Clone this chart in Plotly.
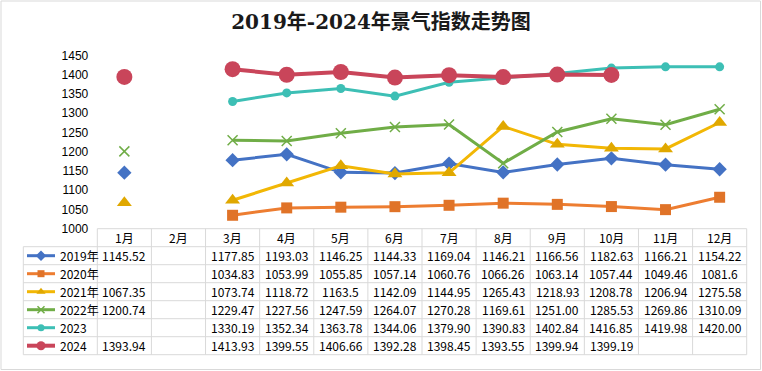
import plotly.graph_objects as go

W, H = 762, 371

months = ["1月", "2月", "3月", "4月", "5月", "6月", "7月", "8月", "9月", "10月", "11月", "12月"]
series_names = ["2019年", "2020年", "2021年", "2022年", "2023", "2024"]
s2019 = [1145.52, None, 1177.85, 1193.03, 1146.25, 1144.33, 1169.04, 1146.21, 1166.56, 1182.63, 1166.21, 1154.22]
s2020 = [None, None, 1034.83, 1053.99, 1055.85, 1057.14, 1060.76, 1066.26, 1063.14, 1057.44, 1049.46, 1081.6]
s2021 = [1067.35, None, 1073.74, 1118.72, 1163.5, 1142.09, 1144.95, 1265.43, 1218.93, 1208.78, 1206.94, 1275.58]
s2022 = [1200.74, None, 1229.47, 1227.56, 1247.59, 1264.07, 1270.28, 1169.61, 1251.00, 1285.53, 1269.86, 1310.09]
s2023 = [None, None, 1330.19, 1352.34, 1363.78, 1344.06, 1379.90, 1390.83, 1402.84, 1416.85, 1419.98, 1420.00]
s2024 = [1393.94, None, 1413.93, 1399.55, 1406.66, 1392.28, 1398.45, 1393.55, 1399.94, 1399.19, None, None]
all_series = [s2019, s2020, s2021, s2022, s2023, s2024]
fixed2 = [False, False, False, True, True, True]
y_ticks = [1000, 1050, 1100, 1150, 1200, 1250, 1300, 1350, 1400, 1450]

colors = ["#4472C4", "#ED7D31", "#F2B705", "#70AD47", "#3DBFB5", "#C9455A"]
marker_colors = ["#4472C4", "#E07328", "#E0A800", "#70AD47", "#3DBFB5", "#C9455A"]
symbols = ["diamond", "square", "triangle-up", "x-thin", "circle", "circle"]
msizes = [11, 11, 13, 10, 9, 16]
leg_sizes = [8, 7, 8, 7, 7, 9]
lwidths = [3, 3, 3, 3, 3, 4]

# layout geometry (pixels)
px_left, px_right = 97.3, 746.7
px_top, px_bottom = 55.3, 228.7
leg_left = 23.3
row_h = 18.0
header_top = px_bottom
def py(y):
    return 1 - y / H

fig = go.Figure()
for i, (name, vals) in enumerate(zip(series_names, all_series)):
    mk = dict(symbol=symbols[i], size=msizes[i], color=marker_colors[i])
    if symbols[i] == "x-thin":
        mk["line"] = dict(color=marker_colors[i], width=1.5)
    fig.add_trace(go.Scatter(
        x=months, y=vals, name=name, mode="lines+markers",
        line=dict(color=colors[i], width=lwidths[i]),
        marker=mk, connectgaps=False, showlegend=False, cliponaxis=False,
    ))

# legend keys in table (pixel axes)
for i, name in enumerate(series_names):
    yc = header_top + row_h * (i + 1.5)
    mk = dict(symbol=symbols[i], size=leg_sizes[i], color=marker_colors[i])
    if symbols[i] == "x-thin":
        mk["line"] = dict(color=marker_colors[i], width=1.5)
    fig.add_trace(go.Scatter(x=[27, 55], y=[yc, yc], mode="lines",
                             line=dict(color=colors[i], width=lwidths[i]),
                             xaxis="x2", yaxis="y2", showlegend=False, hoverinfo="skip"))
    fig.add_trace(go.Scatter(x=[41], y=[yc], mode="markers", marker=mk,
                             xaxis="x2", yaxis="y2", showlegend=False, hoverinfo="skip"))

grid = "#D9D9D9"
shapes = []
shapes.append(dict(type="line", xref="paper", yref="paper", x0=px_left / W, x1=px_right / W,
                   y0=py(header_top), y1=py(header_top), line=dict(color=grid, width=1)))
for k in range(1, 8):
    yy = header_top + row_h * k
    shapes.append(dict(type="line", xref="paper", yref="paper", x0=leg_left / W, x1=px_right / W,
                       y0=py(yy), y1=py(yy), line=dict(color=grid, width=1)))
col_w = (px_right - px_left) / 12
for k in range(13):
    xx = px_left + col_w * k
    shapes.append(dict(type="line", xref="paper", yref="paper", x0=xx / W, x1=xx / W,
                       y0=py(header_top), y1=py(header_top + row_h * 7), line=dict(color=grid, width=1)))
shapes.append(dict(type="line", xref="paper", yref="paper", x0=leg_left / W, x1=leg_left / W,
                   y0=py(header_top + row_h), y1=py(header_top + row_h * 7), line=dict(color=grid, width=1)))
shapes.append(dict(type="rect", xref="paper", yref="paper", x0=1 / W, x1=1 - 1.5 / W, y0=1.5 / H, y1=1 - 1 / H,
                   line=dict(color=grid, width=1), layer="below"))

tfont = dict(family="Noto Sans CJK SC", size=12, color="#000000")
ann = []
for m in months:
    ann.append(dict(x=m, y=py(header_top + row_h * 0.5), xref="x", yref="paper", text=m,
                    showarrow=False, font=tfont, xanchor="center", yanchor="middle"))
for i, (name, vals) in enumerate(zip(series_names, all_series)):
    yc = py(header_top + row_h * (i + 1.5))
    ann.append(dict(x=58 / W, y=yc, xref="paper", yref="paper", text=name, showarrow=False,
                    font=tfont, xanchor="left", yanchor="middle"))
    for m, v in zip(months, vals):
        if v is None:
            continue
        txt = f"{v:.2f}" if fixed2[i] else f"{v:g}"
        ann.append(dict(x=m, y=yc, xref="x", yref="paper", text=txt, showarrow=False,
                        font=tfont, xanchor="center", yanchor="middle"))

fig.update_layout(
    width=W, height=H, margin=dict(l=0, r=0, t=0, b=0, autoexpand=False),
    paper_bgcolor="white", plot_bgcolor="rgba(0,0,0,0)",
    title=dict(text="<b>2019年-2024年景气指数走势图</b>", x=0.5, xanchor="center",
               y=1 - 22 / H, yanchor="middle",
               font=dict(family="DejaVu Serif, Noto Sans CJK SC", size=20, color="#1a1a1a")),
    xaxis=dict(domain=[px_left / W, px_right / W], type="category", categoryorder="array",
               categoryarray=months, range=[-0.5, 11.5], showticklabels=False, automargin=False,
               showgrid=False, zeroline=False, showline=False, ticks=""),
    yaxis=dict(domain=[py(px_bottom), py(px_top)], range=[1000, 1450], tickvals=y_ticks,
               showgrid=False, zeroline=False, showline=False, ticks="", automargin=False,
               tickfont=dict(family="Liberation Sans", size=12, color="#000000"),
               ticklabelstandoff=8),
    xaxis2=dict(domain=[0, 1], range=[0, W], visible=False, fixedrange=True, automargin=False),
    yaxis2=dict(domain=[0, 1], range=[H, 0], visible=False, fixedrange=True, automargin=False),
    shapes=shapes, annotations=ann,
)

fig.write_html("out.html", config={"displayModeBar": False},
               post_script="document.body.style.margin='0';document.body.style.padding='0';")
